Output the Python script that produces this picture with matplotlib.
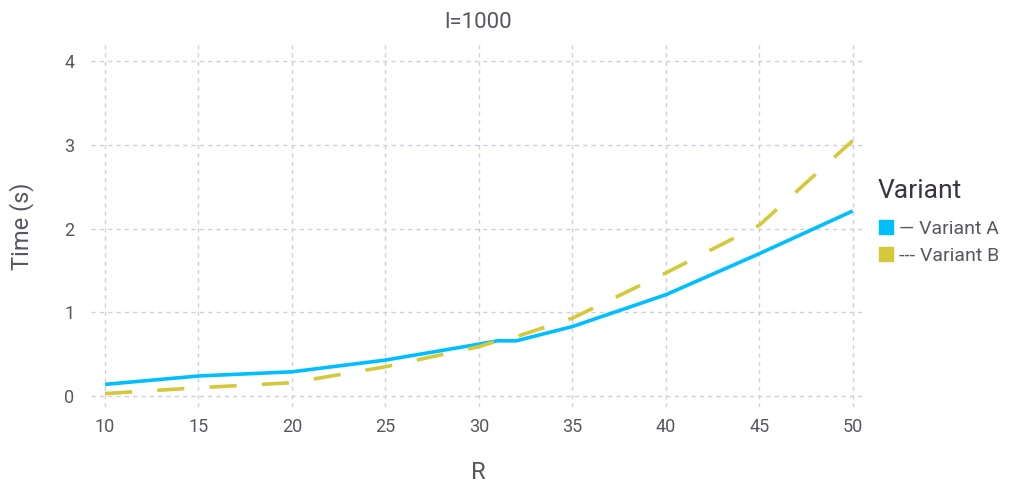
import matplotlib
matplotlib.use("Agg")
import matplotlib.pyplot as plt
from matplotlib.lines import Line2D

plt.rcParams['font.family'] = ['Roboto', 'DejaVu Sans']

R = [10, 15, 20, 25, 30, 31, 32, 35, 40, 45, 50]
variant_a = [0.14, 0.24, 0.29, 0.43, 0.62, 0.66, 0.66, 0.83, 1.21, 1.70, 2.21]
variant_b = [0.03, 0.10, 0.16, 0.35, 0.59, 0.66, 0.71, 0.93, 1.47, 2.04, 3.05]
series_names = ["Variant A", "Variant B"]
legend_labels = ["— Variant A", "--- Variant B"]
colors = ["#00BFFF", "#D4C93A"]
xticks = [10, 15, 20, 25, 30, 35, 40, 45, 50]
yticks = [0, 1, 2, 3, 4]

text_color = "#5a5560"
grid_color = "#cfcfe0"

fig = plt.figure(figsize=(10.09, 4.9), dpi=100)
ax = fig.add_axes([0.0902, 0.1694, 0.767, 0.7386])

ax.plot(R, variant_a, color=colors[0], lw=2.6, solid_capstyle='butt', zorder=3)
ax.plot(R, variant_b, color=colors[1], lw=2.6, dashes=(7.5, 7.0), dash_capstyle='butt', zorder=3)

ax.set_xlim(9.25, 50.65)
ax.set_ylim(-0.13, 4.19)
ax.set_xticks(xticks)
ax.set_yticks(yticks)
ax.grid(True, color=grid_color, linestyle=(0, (3, 3)), lw=1.0)
ax.set_axisbelow(True)
for s in ax.spines.values():
    s.set_visible(False)
ax.tick_params(axis='both', length=0, labelsize=13, colors=text_color, pad=8)
ax.tick_params(axis='y', pad=12)

ax.set_xlabel("R", fontsize=17, color=text_color, labelpad=18)
ax.set_ylabel("Time (s)", fontsize=17, color=text_color, labelpad=22)
ax.set_title("l=1000", fontsize=16, color=text_color, pad=12)

handles = [Line2D([], [], marker='s', linestyle='none', markersize=10,
                  markerfacecolor=c, markeredgecolor=c) for c in colors]
leg = fig.legend(handles, legend_labels, title="Variant", loc='upper left',
                 bbox_to_anchor=(0.862, 0.65), frameon=False, fontsize=14,
                 title_fontsize=19, handletextpad=0.2, labelspacing=0.45,
                 handlelength=0.9, borderaxespad=0)
leg._legend_box.align = "left"
leg._legend_box.sep = 12
for t in leg.get_texts():
    t.set_color(text_color)
leg.get_title().set_color("#3a3540")

fig.savefig("out.png", dpi=100)
